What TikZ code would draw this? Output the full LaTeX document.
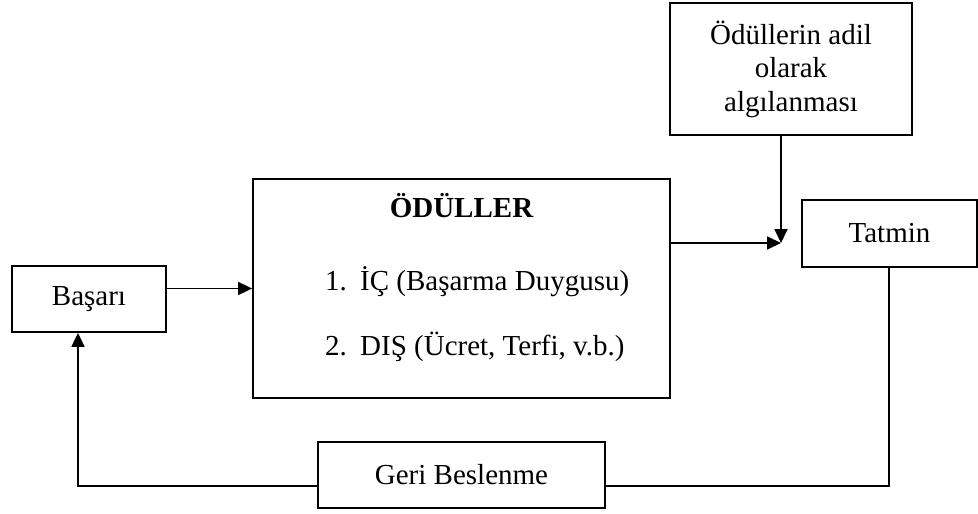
\documentclass[tikz,border=0pt]{standalone}
\usepackage{fontspec}
\setmainfont{Liberation Serif}
\usetikzlibrary{arrows.meta}
\begin{document}
\begin{tikzpicture}[x=1pt,y=-1pt,
  txt/.style={font=\fontsize{29}{33.5}\selectfont},
  box/.style={draw,line width=1.8pt,inner sep=0pt,align=center,txt},
  conn/.style={line width=1.8pt},
  arr/.style={conn,-{Triangle[length=14pt,width=13pt]}}]
\useasboundingbox (0,0) rectangle (978,514);

% boxes
\node[box,minimum width=154pt,minimum height=66pt] (bas) at (89,299) {Başarı};
\node[box,minimum width=417pt,minimum height=219pt] (odul) at (461.5,288.5) {};
\node[box,minimum width=242pt,minimum height=132pt] (adil) at (791,69)
  {Ödüllerin adil\\olarak\\algılanması};
\node[box,minimum width=175pt,minimum height=67pt] (tat) at (889.5,233.5) {Tatmin};
\node[box,minimum width=287pt,minimum height=66pt] (geri) at (461.5,475) {Geri Beslenme};

% contents of the rewards box
\node[txt,font=\fontsize{29}{33.5}\selectfont\bfseries,anchor=base] (baslik) at (461.5,217) {ÖDÜLLER};
\node[txt,anchor=base west,inner sep=0pt] (n1) at (325,290) {1.};
\node[txt,anchor=base west,inner sep=0pt] (ic) at (360,290) {İÇ (Başarma Duygusu)};
\node[txt,anchor=base west,inner sep=0pt] (n2) at (325,355) {2.};
\node[txt,anchor=base west,inner sep=0pt] (dis) at (360,355) {DIŞ (Ücret, Terfi, v.b.)};

% junction points
\coordinate (meet) at (781,243);
\coordinate (fbR) at (889,486);
\coordinate (fbL) at (78,486);

% connectors
\draw[arr] (bas.east |- odul.west) -- (odul.west);
\draw[arr] (odul.east |- meet) -- (meet);
\draw[arr] (meet |- adil.south) -- (meet);
\draw[conn] (fbR |- tat.south) -- (fbR) -- (geri.east |- fbR);
\draw[arr] (geri.west |- fbL) -- (fbL) -- (fbL |- bas.south);
\end{tikzpicture}
\end{document}
